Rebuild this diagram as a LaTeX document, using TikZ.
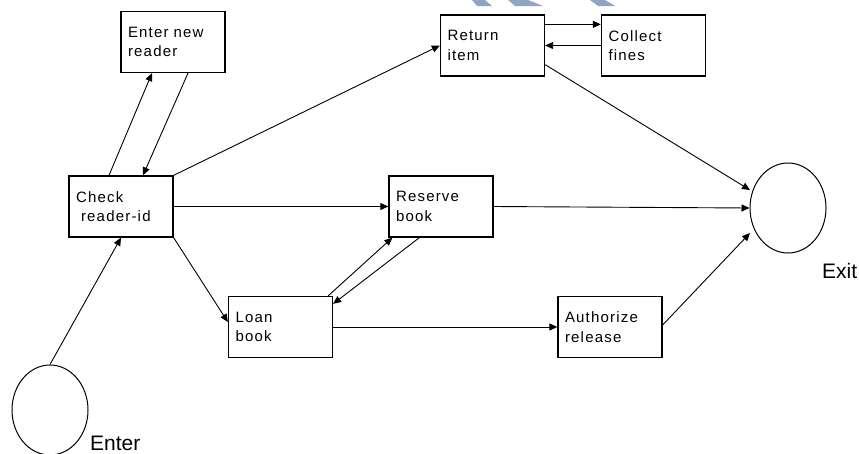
\documentclass[tikz,border=0pt]{standalone}
\usepackage{fontspec}
\setmainfont{Liberation Sans}
\newfontfamily\boxfont{Liberation Sans}[LetterSpace=8]
\usetikzlibrary{arrows.meta,shapes.geometric}
\definecolor{wmark}{RGB}{143,165,194}
\tikzset{
  stepbox/.style={draw=black, line width=1.3pt, minimum width=104pt, minimum height=61pt,
    text width=90pt, inner xsep=7pt, inner ysep=0pt, align=left,
    font=\boxfont\fontsize{15}{19.5}\selectfont},
  term/.style={draw=black, line width=1pt, ellipse, minimum width=76pt, minimum height=90pt, inner sep=0pt},
  flow/.style={draw=black, line width=0.9pt, -{Triangle[length=8pt,width=7pt]}},
  biglabel/.style={font=\fontsize{21}{24}\selectfont, inner sep=0pt, anchor=base west}
}
\begin{document}
\begin{tikzpicture}[x=1pt,y=-1pt]
\useasboundingbox (0,0) rectangle (859,453);
% watermark fragments
\fill[wmark] (472,0) -- (485,0) -- (492,6) -- (477,6) -- cycle;
\fill[wmark] (508,0) -- (528,0) -- (543,6) -- (515,6) -- cycle;
\fill[wmark] (590,0) -- (605,0) -- (615,6) -- (598,6) -- cycle;
% boxes
\node[stepbox] (enr) at (173,42) {Enter new\\reader};
\node[stepbox] (chk) at (121,206.5) {Check\\\hspace*{5pt}reader-id};
\node[stepbox] (ret) at (492.5,45.5) {Return\\item};
\node[stepbox] (col) at (653.5,45.5) {Collect\\fines};
\node[stepbox] (res) at (441,206.5) {Reserve\\book};
\node[stepbox] (loan) at (280.5,327) {Loan\\book};
\node[stepbox] (auth) at (610,327) {Authorize\\release};
% terminals
\node[term] (ent) at (50,410) {};
\node[term] (ex) at (788,208) {};
\node[biglabel] (entl) at (90,450) {Enter};
\node[biglabel] (exl) at (822,278) {Exit};
% connectors
\draw[flow] (ent.north) -- (chk.south);
\draw[flow] ([xshift=-12pt]chk.north) -- ([xshift=-21pt]enr.south);
\draw[flow] ([xshift=15pt]enr.south) -- ([xshift=22pt]chk.north);
\draw[flow] (chk.north east) -- (ret.west);
\draw[flow] (chk.east) -- (res.west);
\draw[flow] (chk.south east) -- ([yshift=5pt]loan.west);
\draw[flow] ([xshift=-5pt]loan.north east) -- ([xshift=4pt]res.south west);
\draw[flow] ([xshift=31pt]res.south west) -- ([yshift=-8pt]loan.north east);
\draw[flow] (loan.east) -- (auth.west);
\draw[flow] ([yshift=-10pt]ret.north east) -- ([yshift=-10pt]col.north west);
\draw[flow] (col.west) -- (ret.east);
\draw[flow] ([yshift=12pt]ret.south east) -- ([shift={(-38pt,18pt)}]ex.center);
\draw[flow] (res.east) -- (ex.west);
\draw[flow] ([yshift=2pt]auth.east) -- ([shift={(-38pt,-25pt)}]ex.center);
\end{tikzpicture}
\end{document}
